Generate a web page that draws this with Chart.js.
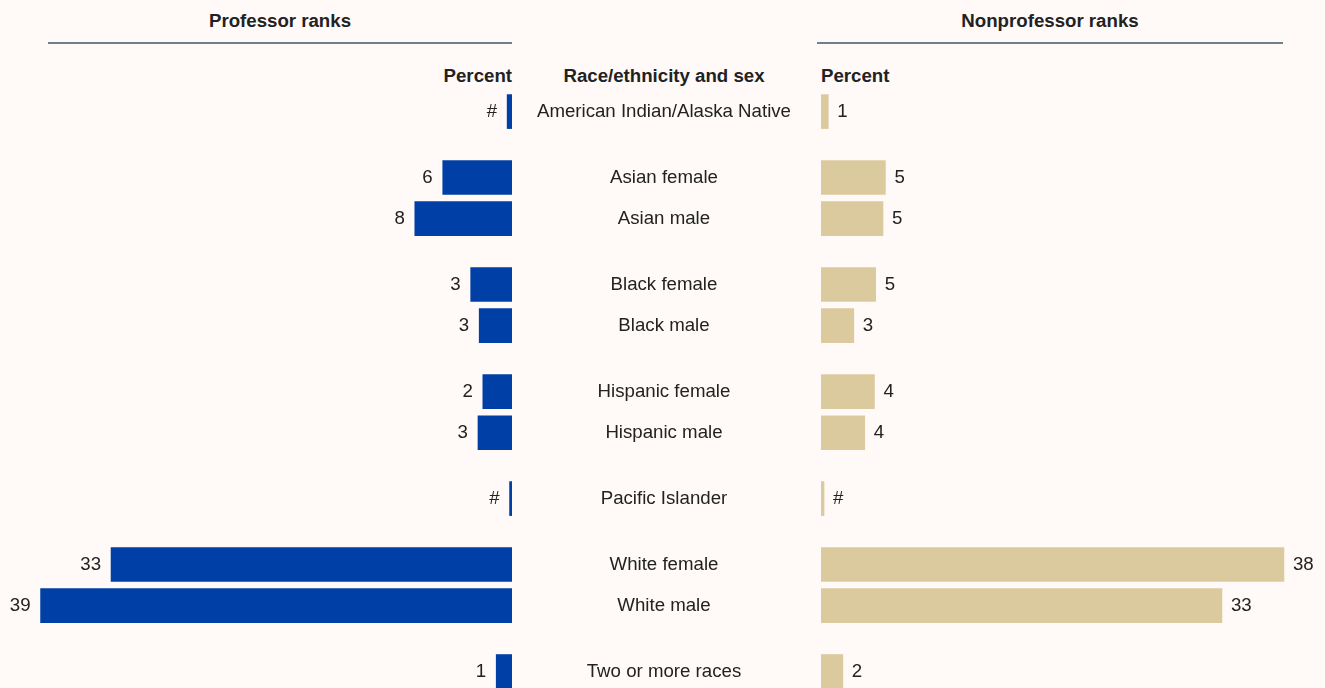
<!DOCTYPE html>
<html>
<head>
<meta charset="utf-8">
<script src="https://cdn.jsdelivr.net/npm/chart.js@4.4.1/dist/chart.umd.min.js"></script>
<style>
  html, body { margin: 0; padding: 0; background: #fffaf8; overflow: hidden; }
  #wrap { position: relative; width: 1325px; height: 688px; font-family: "Liberation Sans", Arial, sans-serif; color: #222; }
  .hd { position: absolute; font-size: 18.67px; line-height: 18.67px; font-weight: bold; white-space: nowrap; }
  .rule { position: absolute; top: 42px; height: 1.5px; background: #6e7f8d; }
  canvas { position: absolute; top: 0; }
</style>
</head>
<body>
<div id="wrap">
  <div class="hd" style="left:48px;width:464px;top:12px;text-align:center;">Professor ranks</div>
  <div class="hd" style="left:817px;width:466px;top:12px;text-align:center;">Nonprofessor ranks</div>
  <div class="rule" style="left:48px;width:464px;"></div>
  <div class="rule" style="left:817px;width:466px;"></div>
  <div class="hd" style="left:312px;width:200px;top:67px;text-align:right;">Percent</div>
  <div class="hd" style="left:514px;width:300px;top:67px;text-align:center;">Race/ethnicity and sex</div>
  <div class="hd" style="left:821px;top:67px;">Percent</div>
  <canvas id="profChart" width="512" height="688" style="left:0;"></canvas>
  <canvas id="nonprofChart" width="813" height="688" style="left:512px;"></canvas>
</div>
<script>
// rows, top to bottom
var categories = [
  "American Indian/Alaska Native",
  "Asian female", "Asian male",
  "Black female", "Black male",
  "Hispanic female", "Hispanic male",
  "Pacific Islander",
  "White female", "White male",
  "Two or more races"
];
// which block each row belongs to (blocks are separated by a wider gap)
var rowGroup = [0, 1, 1, 2, 2, 3, 3, 4, 5, 5, 6];

// percent of faculty, professor ranks
var professorPct = [0.4, 5.7, 8.0, 3.4, 2.7, 2.4, 2.8, 0.2, 33.0, 38.8, 1.3];
// percent of faculty, nonprofessor ranks
var nonprofessorPct = [0.6, 5.3, 5.1, 4.5, 2.7, 4.4, 3.6, 0.25, 38.1, 33.0, 1.8];

var FONT_FAMILY = "'Liberation Sans', Arial, sans-serif";
var FONT_SIZE = 18.67;
var TEXT = "#222";

// row position on the y scale: one unit per row, plus extra space between blocks
var rowPos = categories.map(function(c, i) { return i + 0.6 * rowGroup[i]; });

function points(values) {
  return values.map(function(v, i) { return { x: v, y: rowPos[i] }; });
}

function pctLabel(v) {
  return v < 0.5 ? "#" : String(Math.round(v));
}

// value next to the end of each bar
var valueLabels = {
  id: "valueLabels",
  afterDatasetsDraw: function(chart, args, opts) {
    var ctx = chart.ctx;
    var meta = chart.getDatasetMeta(0);
    var data = chart.data.datasets[0].data;
    ctx.save();
    ctx.font = FONT_SIZE + "px " + FONT_FAMILY;
    ctx.fillStyle = TEXT;
    ctx.textBaseline = "middle";
    ctx.textAlign = opts.side === "left" ? "right" : "left";
    meta.data.forEach(function(bar, i) {
      var x = opts.side === "left" ? bar.x - 10 : bar.x + 9;
      ctx.fillText(pctLabel(data[i].x), x, bar.y);
    });
    ctx.restore();
  }
};

function yScale(showLabels) {
  return {
    type: "linear",
    reverse: true,
    offset: false,
    min: -0.5,
    max: 14,
    display: showLabels,
    grid: { display: false },
    border: { display: false },
    afterBuildTicks: function(axis) {
      axis.ticks = rowPos.map(function(p) { return { value: p }; });
    },
    afterFit: function(axis) {
      if (showLabels) axis.width = 309;
      axis.paddingTop = 0;
      axis.paddingBottom = 0;
    },
    ticks: {
      autoSkip: false,
      padding: 22,
      crossAlign: "center",
      color: TEXT,
      font: { family: FONT_FAMILY, size: FONT_SIZE },
      callback: function(value, index) { return categories[index]; }
    }
  };
}

function barOptions(xMax, reverse, side, showLabels) {
  return {
    responsive: false,
    animation: false,
    indexAxis: "y",
    layout: { padding: { top: 91, bottom: 0, left: 0, right: 0 } },
    scales: {
      x: { type: "linear", min: 0, max: xMax, reverse: reverse, display: false },
      y: yScale(showLabels)
    },
    plugins: {
      legend: { display: false },
      tooltip: { enabled: false },
      valueLabels: { side: side }
    }
  };
}

new Chart("profChart", {
  type: "bar",
  data: {
    datasets: [{
      data: points(professorPct),
      backgroundColor: "#003fa5",
      barThickness: 34
    }]
  },
  options: barOptions(42.14, true, "left", false),
  plugins: [valueLabels]
});

new Chart("nonprofChart", {
  type: "bar",
  data: {
    datasets: [{
      data: points(nonprofessorPct),
      backgroundColor: "#dcca9f",
      barThickness: 34
    }]
  },
  options: barOptions(41.48, false, "right", true),
  plugins: [valueLabels]
});
</script>
</body>
</html>
